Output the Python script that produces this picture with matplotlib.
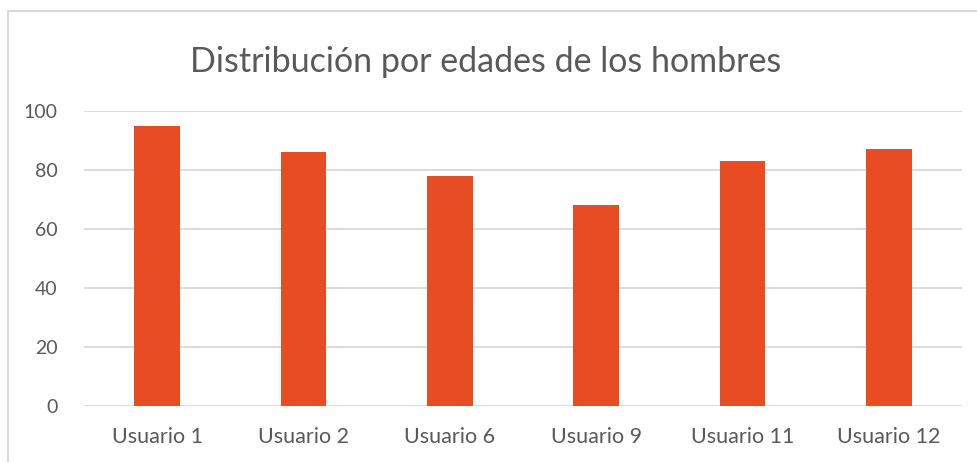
import matplotlib
matplotlib.use("Agg")
from matplotlib import pyplot as plt
from matplotlib.patches import Rectangle

usuarios = ["Usuario 1", "Usuario 2", "Usuario 6", "Usuario 9", "Usuario 11", "Usuario 12"]
edades = [95, 86, 78, 68, 83, 87]
y_ticks = [0, 20, 40, 60, 80, 100]

BAR = "#E84C22"
GRID = "#D9D9D9"
TEXT = "#595959"

plt.rcParams["font.family"] = ["Lato", "DejaVu Sans"]

W, H = 978, 462
fig = plt.figure(figsize=(W / 100, H / 100), dpi=100)

# chart border (cropped at right and bottom)
fig.patches.append(Rectangle((8 / W, -0.05), 1.1, 1 - 11 / H + 0.05,
                             transform=fig.transFigure, fill=False,
                             edgecolor=GRID, linewidth=1.5))

ax = fig.add_axes([84 / W, 56 / H, (962 - 84) / W, (406 - 111) / H])
x = range(len(usuarios))
ax.bar(x, edades, width=0.31, color=BAR, zorder=3)
ax.set_xlim(-0.5, len(usuarios) - 0.5)
ax.set_ylim(0, 100)
ax.set_yticks(y_ticks)
ax.set_xticks(list(x))
ax.set_xticklabels(usuarios)
ax.yaxis.grid(True, color=GRID, linewidth=1.3, zorder=0)
for s in ax.spines.values():
    s.set_visible(False)
ax.tick_params(length=0, colors=TEXT)
ax.tick_params(axis="x", labelsize=15.5, pad=15)
ax.tick_params(axis="y", labelsize=14, pad=19)

fig.text(486 / W, 1 - 62 / H, "Distribución por edades de los hombres",
         ha="center", va="center", fontsize=24.5, color=TEXT)

fig.savefig("out.png", dpi=100)
